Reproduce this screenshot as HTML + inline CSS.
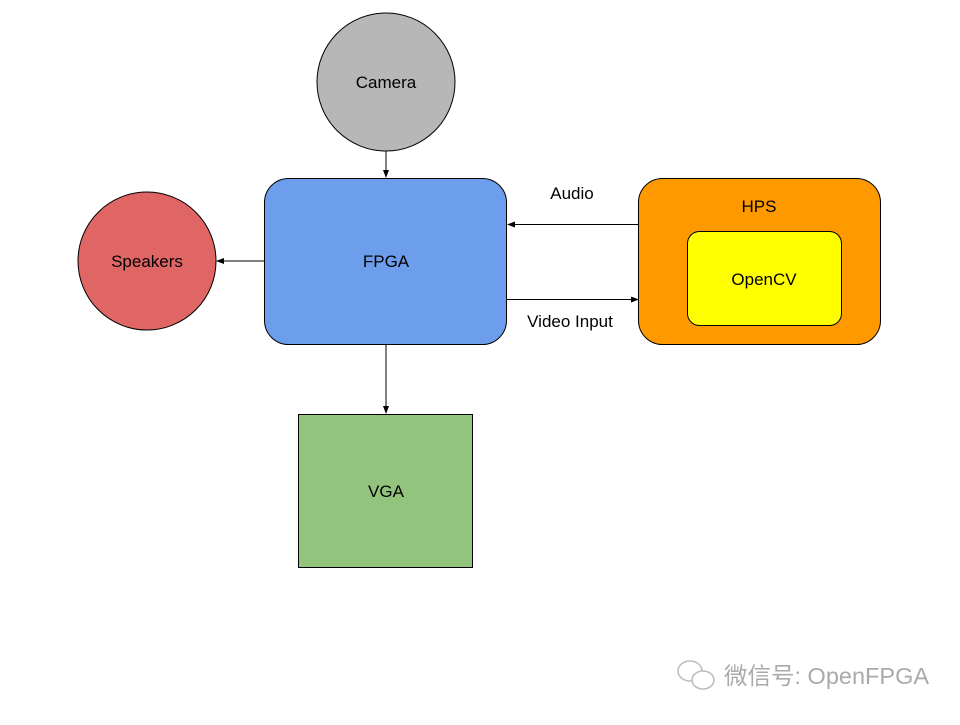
<!DOCTYPE html>
<html><head><meta charset="utf-8"><style>body{margin:0;background:#fff}</style></head><body>
<svg width="960" height="720" xmlns="http://www.w3.org/2000/svg" font-family="Liberation Sans, Arial, sans-serif" font-size="17">
<defs><marker id="a" markerWidth="8" markerHeight="6" refX="7" refY="3" orient="auto" markerUnits="userSpaceOnUse"><path d="M0,0 L8,3 L0,6 z" fill="#000"/></marker></defs>
<rect width="960" height="720" fill="#fff"/>
<circle cx="386" cy="82" r="69" fill="#b7b7b7" stroke="#000" stroke-width="1"/>
<text x="386" y="88" text-anchor="middle">Camera</text>
<circle cx="147" cy="261" r="69" fill="#e06666" stroke="#000" stroke-width="1"/>
<text x="147" y="267" text-anchor="middle">Speakers</text>
<rect x="264.5" y="178.5" width="242" height="166" rx="24" fill="#6d9eeb" stroke="#000" stroke-width="1"/>
<text x="386" y="267" text-anchor="middle">FPGA</text>
<rect x="638.5" y="178.5" width="242" height="166" rx="24" fill="#ff9900" stroke="#000" stroke-width="1"/>
<text x="759" y="212" text-anchor="middle">HPS</text>
<rect x="687.5" y="231.5" width="154" height="94" rx="12" fill="#ffff00" stroke="#000" stroke-width="1"/>
<text x="764" y="285" text-anchor="middle">OpenCV</text>
<rect x="298.5" y="414.5" width="174" height="153" fill="#93c47d" stroke="#000" stroke-width="1"/>
<text x="386" y="497" text-anchor="middle">VGA</text>
<g stroke="#000" stroke-width="1">
<line x1="386" y1="151" x2="386" y2="177" marker-end="url(#a)"/>
<line x1="264" y1="261" x2="217" y2="261" marker-end="url(#a)"/>
<line x1="386" y1="345" x2="386" y2="413" marker-end="url(#a)"/>
<line x1="638" y1="224.5" x2="508" y2="224.5" marker-end="url(#a)"/>
<line x1="507" y1="299.5" x2="638" y2="299.5" marker-end="url(#a)"/>
</g>
<text x="572" y="199" text-anchor="middle">Audio</text>
<text x="570" y="327" text-anchor="middle">Video Input</text>
<text x="724" y="684" font-family="Liberation Sans, Noto Sans CJK SC, sans-serif" font-size="23.5" fill="#aaa">微信号: OpenFPGA</text>
<g fill="none" stroke="#bbb" stroke-width="1.5"><ellipse cx="690" cy="671" rx="12" ry="10"/><ellipse cx="703" cy="680" rx="11" ry="9" fill="#fff"/></g>
</svg>
</body></html>
